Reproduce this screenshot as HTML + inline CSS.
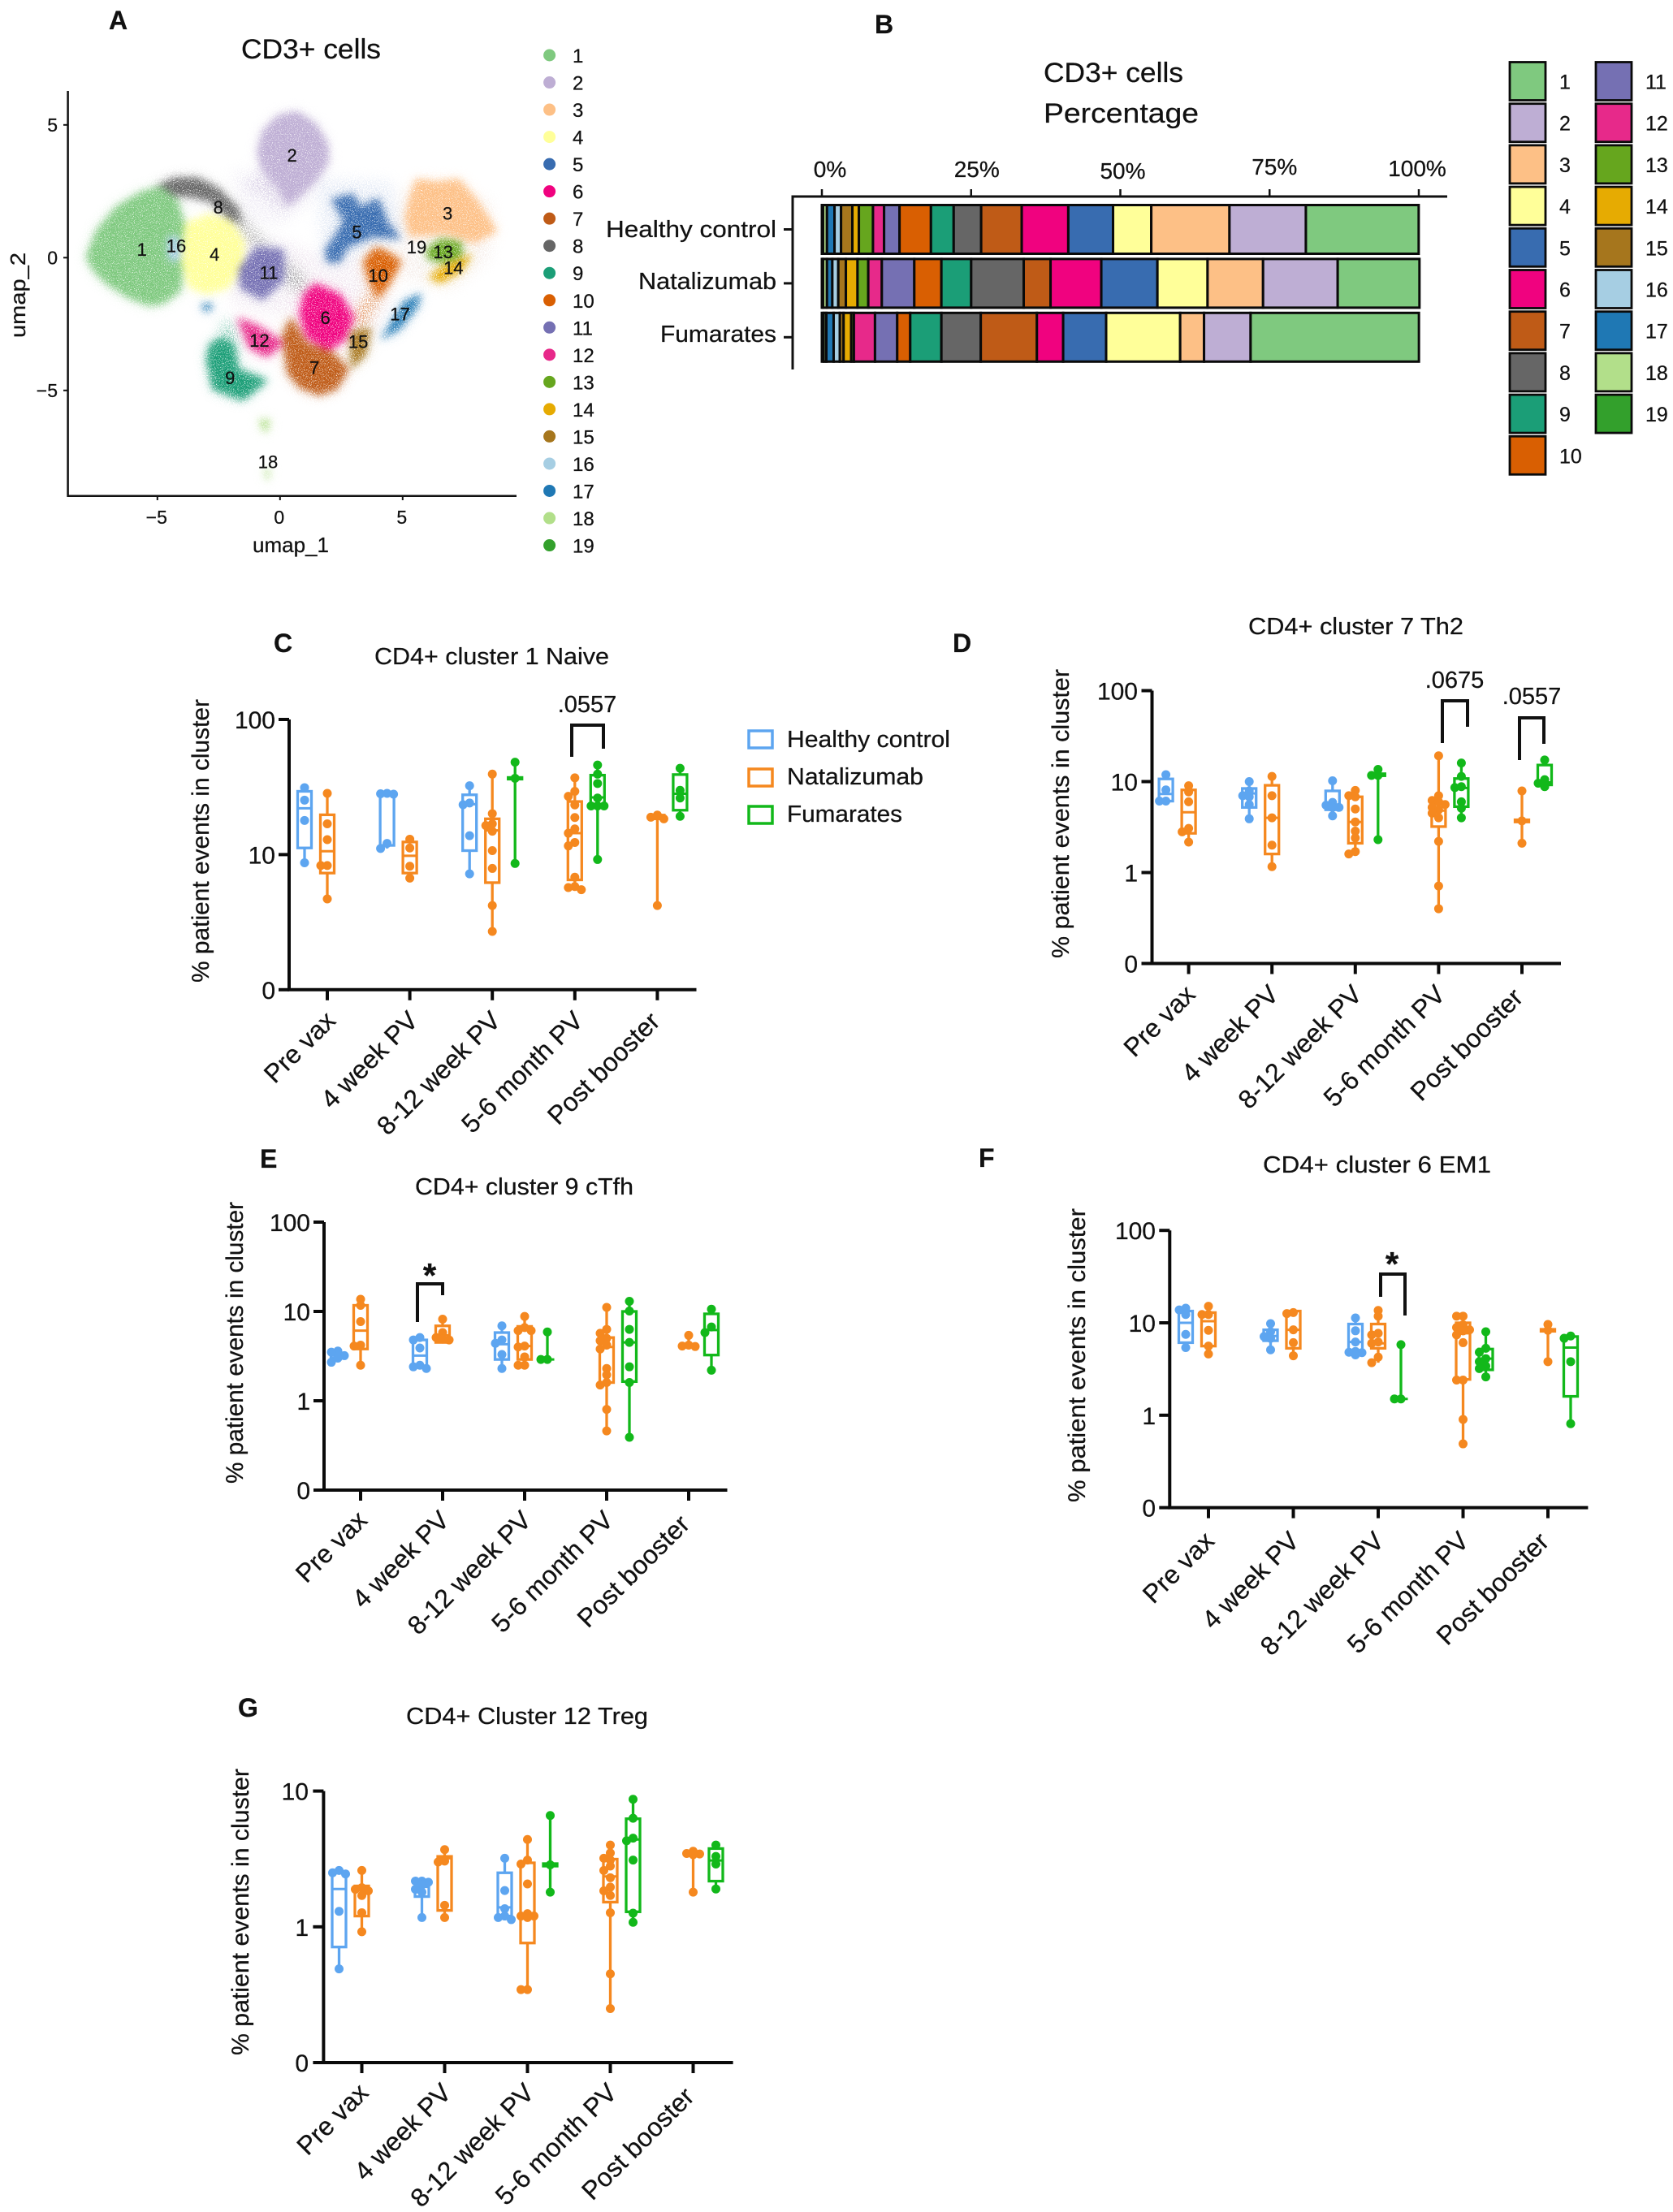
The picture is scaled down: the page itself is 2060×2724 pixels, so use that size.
<!DOCTYPE html>
<html lang="en">
<head>
<meta charset="utf-8">
<title>CD3+ cell clusters figure</title>
<style>
html,body{margin:0;padding:0;background:#fff;}
svg{display:block;}
text{font-family:"Liberation Sans",sans-serif;fill:#111;stroke:#111;stroke-width:.25px;}
</style>
</head>
<body>
<svg id="figure" xmlns="http://www.w3.org/2000/svg" width="2060" height="2724" viewBox="0 0 2060 2724">
  <defs>
    <filter id="grainHalo" filterUnits="userSpaceOnUse" x="60" y="100" width="600" height="520" color-interpolation-filters="sRGB">
      <feGaussianBlur in="SourceGraphic" stdDeviation="8" result="b"/>
      <feTurbulence type="fractalNoise" baseFrequency="0.8" numOctaves="2" seed="4" result="n"/>
      <feColorMatrix in="n" type="matrix" values="0 0 0 0 0 0 0 0 0 0 0 0 0 0 0 14 0 0 0 -6.6" result="m"/>
      <feComposite in="b" in2="m" operator="in"/>
    </filter>
    <filter id="grainCore" filterUnits="userSpaceOnUse" x="60" y="100" width="600" height="520" color-interpolation-filters="sRGB">
      <feGaussianBlur in="SourceGraphic" stdDeviation="4.5" result="b"/>
      <feTurbulence type="fractalNoise" baseFrequency="0.9" numOctaves="2" seed="9" result="n"/>
      <feColorMatrix in="n" type="matrix" values="0 0 0 0 0 0 0 0 0 0 0 0 0 0 0 9 0 0 0 -3" result="m"/>
      <feComposite in="b" in2="m" operator="in"/>
    </filter>
  </defs>

  <!-- Panel letters -->
  <g font-weight="700" font-size="32">
    <text x="134" y="36">A</text>
    <text x="1077" y="41">B</text>
    <text x="337" y="803">C</text>
    <text x="1173" y="803">D</text>
    <text x="320" y="1438">E</text>
    <text x="1205" y="1437">F</text>
    <text x="293" y="2114">G</text>
  </g>

  <!-- Panel A -->
  <g id="panel-a">
    <text x="297" y="72" font-size="34" textLength="172" lengthAdjust="spacingAndGlyphs">CD3+ cells</text>
    <g id="umap-marks"></g>
    <g id="umap-axes"></g>
    <text x="311" y="680" font-size="26" textLength="94" lengthAdjust="spacingAndGlyphs">umap_1</text>
    <text transform="translate(31,416) rotate(-90)" font-size="26" textLength="105" lengthAdjust="spacingAndGlyphs">umap_2</text>
    <g id="umap-legend"></g>
  </g>

  <!-- Panel B -->
  <g id="panel-b">
    <text x="1285" y="101" font-size="34" textLength="172" lengthAdjust="spacingAndGlyphs">CD3+ cells</text>
    <text x="1285" y="151" font-size="34" textLength="191" lengthAdjust="spacingAndGlyphs">Percentage</text>
    <g id="bar-marks"></g>
    <g id="bar-axes"></g>
    <g id="bar-legend"></g>
  </g>

  <!-- Panel titles and y titles -->
  <g font-size="29">
    <text x="461" y="818" textLength="289" lengthAdjust="spacingAndGlyphs">CD4+ cluster 1 Naive</text>
    <text x="1537" y="781" textLength="265" lengthAdjust="spacingAndGlyphs">CD4+ cluster 7 Th2</text>
    <text x="511" y="1471" textLength="269" lengthAdjust="spacingAndGlyphs">CD4+ cluster 9 cTfh</text>
    <text x="1555" y="1444" textLength="281" lengthAdjust="spacingAndGlyphs">CD4+ cluster 6 EM1</text>
    <text x="500" y="2123" textLength="298" lengthAdjust="spacingAndGlyphs">CD4+ Cluster 12 Treg</text>
  </g>
  <g font-size="30">
    <text transform="translate(257,1210) rotate(-90)" textLength="349" lengthAdjust="spacingAndGlyphs">% patient events in cluster</text>
    <text transform="translate(1316,1180) rotate(-90)" textLength="356" lengthAdjust="spacingAndGlyphs">% patient events in cluster</text>
    <text transform="translate(299,1827) rotate(-90)" textLength="347" lengthAdjust="spacingAndGlyphs">% patient events in cluster</text>
    <text transform="translate(1336,1850) rotate(-90)" textLength="362" lengthAdjust="spacingAndGlyphs">% patient events in cluster</text>
    <text transform="translate(306,2531) rotate(-90)" textLength="353" lengthAdjust="spacingAndGlyphs">% patient events in cluster</text>
  </g>

  <!-- Box plot marks -->
  <g id="panel-c"></g>
  <g id="panel-d"></g>
  <g id="panel-e"></g>
  <g id="panel-f"></g>
  <g id="panel-g"></g>

  <!-- Significance brackets -->
  <g fill="none" stroke="#111" stroke-width="4">
    <path d="M704 932V893H743V922"/>
    <path d="M1776 915V863H1807V895"/>
    <path d="M1871 936V884H1901V916"/>
    <path d="M514 1628V1581H545V1595"/>
    <path d="M1700 1597V1569H1730V1620"/>
  </g>
  <g font-size="29" text-anchor="middle">
    <text x="723" y="877">.0557</text>
    <text x="1791" y="847">.0675</text>
    <text x="1886" y="867">.0557</text>
  </g>
  <g font-size="42" font-weight="700" text-anchor="middle">
    <text x="529" y="1585">*</text>
    <text x="1714" y="1571">*</text>
  </g>

  <!-- Box plot legend -->
  <g font-size="29" fill="none" stroke-width="3.5">
    <rect x="922" y="900" width="29" height="21" stroke="#5da5f0"/>
    <rect x="922" y="947" width="29" height="21" stroke="#f5881f"/>
    <rect x="922" y="993" width="29" height="21" stroke="#12b81a"/>
    <text x="969" y="920" textLength="201" lengthAdjust="spacingAndGlyphs">Healthy control</text>
    <text x="969" y="966" textLength="168" lengthAdjust="spacingAndGlyphs">Natalizumab</text>
    <text x="969" y="1012" textLength="142" lengthAdjust="spacingAndGlyphs">Fumarates</text>
  </g>
</svg>

<script>
// ---------- shared categories ----------
const clusterColors = ['#7fc97f','#beaed4','#fdc086','#ffff99','#386cb0','#f0027f','#bf5b17','#666666','#1b9e77','#d95f02','#7570b3','#e7298a','#66a61e','#e6ab02','#a6761d','#a6cee3','#1f78b4','#b2df8a','#33a02c'];
const clusterIds = [1,2,3,4,5,6,7,8,9,10,11,12,13,14,15,16,17,18,19];
const timepoints = ['Pre vax','4 week PV','8-12 week PV','5-6 month PV','Post booster'];
const groupColors = ['#5da5f0','#f5881f','#12b81a'];
const groupNames = ['healthy-control','natalizumab','fumarates'];

// ---------- panel A: cluster outlines and labels in umap units ----------
const umapTicksX = [-5,0,5];
const umapTicksY = [5,0,-5];
const umapLabelIds = [1,16,4,8,2,11,5,3,19,13,14,10,6,17,15,12,7,9,18];
const umapLabelU = [-5.63,-4.23,-2.67,-2.52,0.49,-0.46,3.13,6.83,5.57,6.65,7.07,4.0,1.85,4.89,3.19,-0.84,1.40,-2.04,-0.49];
const umapLabelV = [0.32,0.46,0.13,1.90,3.86,-0.55,0.97,1.67,0.41,0.22,-0.37,-0.66,-2.26,-2.12,-3.16,-3.11,-4.13,-4.51,-7.68];
const umapSparseColors = ['#b7c6e6','#dcc6dc','#e6d2c8','#d8d2e8'];
const umapSparseRegions = [
  [[1.5,3],[4.5,2.9],[5.2,1],[4,0.3],[2,-0.3],[1.6,1]],
  [[-2,0.6],[0,0.7],[2,0],[4.5,-0.2],[4.5,-1.5],[3.5,-3.6],[2.5,-2],[0,-2.2],[-2,-1.8]],
  [[5,2.6],[8.6,2.2],[8.6,0],[7,-1.2],[5,-0.8],[4.8,1]],
  [[-2,3.3],[1.8,3.2],[1.2,2],[0,1.2],[-1.4,1.4]]
];
const umapTailIds = [8,2,10,9];
const umapTailOutlines = [
  [[-1.9,1.9],[-1.04,1.0],[-0.21,0.29],[0.77,-0.55],[1.27,-1.25],[0.61,-1.25],[-0.38,-0.13],[-1.37,0.72],[-2.03,1.42]],
  [[-0.5,3.3],[0.6,2.7],[0.12,1.70],[-0.54,2.26],[-1.53,2.68]],
  [[3.9,-1],[4.2,-1.3],[3.3,-2.8],[3.0,-2.2]],
  [[-2.3,-2.4],[-2,-2.4],[-1.7,-3.6],[-2.5,-3.4]]
];
const umapOutlineIds = [8,1,4,16,2,5,3,13,14,10,11,7,6,15,12,9,17,18,18,17];
const umapOutlines = [
  [[-5.07,2.68],[-4.33,3.0],[-3.34,3.0],[-2.52,2.61],[-1.70,1.84],[-1.55,1.3],[-2.03,1.42],[-2.85,2.12],[-3.67,2.30],[-4.5,2.35]],
  [[-7.9,0.01],[-7.5,1.0],[-6.7,1.9],[-5.65,2.48],[-4.83,2.68],[-4.2,2.2],[-3.9,1.28],[-3.95,-0.13],[-4.05,-1.25],[-4.75,-1.72],[-5.32,-1.82],[-6.15,-1.52],[-7.05,-1.0],[-7.62,-0.48]],
  [[-3.9,1.28],[-2.85,1.63],[-2.03,1.42],[-1.45,0.58],[-1.55,-0.41],[-2.15,-1.15],[-3.01,-1.36],[-3.7,-1.11],[-4.05,-0.13]],
  [[-4.6,0.8],[-4.1,0.8],[-4.0,0],[-4.3,-0.2],[-4.6,0]],
  [[0.69,5.5],[1.45,5.05],[1.95,4.3],[1.98,3.6],[1.55,3.0],[0.95,2.4],[0.3,1.9],[-0.1,2.6],[-0.75,3.3],[-0.92,4.0],[-0.72,4.75],[-0.1,5.35]],
  [[2.1,2.2],[2.95,2.4],[3.3,1.9],[4.0,2.25],[4.4,1.3],[4.95,0.7],[3.8,0.8],[2.75,0.4],[2.4,-0.2],[1.9,-0.15],[1.85,0.3],[2.3,0.9],[2.6,1.4]],
  [[5.55,2.95],[6.4,2.85],[7.3,2.95],[8.0,2.2],[8.85,1.0],[7.9,0.55],[6.7,0.9],[5.3,0.8],[5.1,1.5],[5.3,2.3]],
  [[5.96,0.29],[6.54,0.7],[7.4,0.6],[7.4,0.01],[6.71,-0.2],[6.05,-0.06]],
  [[6.05,-0.75],[6.71,-0.27],[7.85,0.15],[7.4,-0.5],[6.54,-0.95]],
  [[3.9,0.4],[4.4,0.2],[4.95,-0.13],[4.45,-1.0],[3.99,-1.55],[3.6,-0.85],[3.4,-0.13]],
  [[-0.95,0.4],[0.15,0.3],[0.15,-0.85],[-0.71,-1.6],[-1.6,-1.15],[-1.7,-0.41]],
  [[0.44,-2.23],[1.1,-3.22],[2.09,-3.5],[2.8,-4.2],[2.3,-4.95],[1.6,-5.18],[0.8,-4.9],[0.3,-4.34],[0.1,-2.94]],
  [[1.43,-0.97],[2.45,-1.39],[3,-2.23],[2.65,-3.1],[1.93,-3.5],[1.05,-2.98],[0.8,-2.09],[0.98,-1.39]],
  [[2.85,-2.79],[3.7,-2.65],[3.5,-3.64],[2.9,-4.2]],
  [[-1.75,-2.25],[-0.87,-2.58],[0.18,-3.22],[-0.54,-3.75],[-1.25,-3.4]],
  [[-2.3,-3],[-1.86,-3.3],[-1.7,-4.2],[-0.5,-4.62],[-1.53,-5.38],[-2.75,-4.95],[-3,-3.8],[-2.85,-3.22]],
  [[5.75,-1.35],[5.06,-1.67],[4.4,-2.65],[4.1,-3.1],[4.85,-2.7],[5.6,-1.85]],
  [[-0.85,-6.1],[-0.4,-6.1],[-0.55,-6.6],[-0.7,-6.5]],
  [[-0.65,-8.0],[-0.4,-8.0],[-0.5,-8.45]],
  [[-3.2,-1.75],[-2.75,-1.75],[-2.85,-2.0],[-3.1,-2.0]]
];

// ---------- panel B: stacked percentages, left to right = cluster 19 .. 1 ----------
const barCategories = ['Healthy control','Natalizumab','Fumarates'];
const barTicks = [0,25,50,75,100];
const barStackOrder = [19,18,17,16,15,14,13,12,11,10,9,8,7,6,5,4,3,2,1];
const barHealthy = [0.2,0.65,1.27,1.09,1.9,1.09,2.36,1.86,2.59,5.26,3.81,4.6,6.8,7.8,7.5,6.4,13.1,12.8,18.9];
const barNatalizumab = [0.2,0.65,0.9,1.0,1.27,1.95,1.8,2.27,5.44,4.54,4.99,8.8,4.5,8.5,9.4,8.4,9.3,12.5,13.7];
const barFumarates = [0.3,0.45,1.22,1.04,0.63,1.27,0.45,3.54,3.72,2.18,5.22,6.6,9.4,4.4,7.2,12.4,4.0,7.8,28.2];

// ---------- panel C ----------
const cTicks = [['0',1],['10',10],['100',100]];
const cHealthy = [[31.3,25.3,17.9,8.7],[28.4,28.2,28.0,12.1,11.1],[32.3,24.1,23.4,13.8,7.2],[],[]];
const cHealthyBox = [[11.2,22,29.4],[11.7,27.8,27.4],[10.7,23.6,27.7],null,null];
const cNatalizumab = [[28.4,16.9,12.9,8.3,8.3,4.7],[13,11.2,8.2,6.7],[39.4,20.1,16.9,16.4,14.9,10.7,7.9,4.2,2.7],[37,29.4,27,23.3,18.8,15.5,14.4,12.3,11.6,6.8,5.8,5.7,5.5],[19.6,18.9,18.4,4.2]];
const cNatalizumabBox = [[7.3,10.6,19.7],[7.3,9.8,12.4],[6.2,15.1,18.4],[6.5,14.4,24.7],[18.4,18.9,19.6]];
const cFumarates = [[],[],[48.3,36.7,8.6],[46,39.4,33.6,26.2,22.9,22.9,22.9,9.2],[43.5,29.9,26.2,19.2]];
const cFumaratesBox = [null,null,[36.2,36.7,37.2],[22.9,26.5,38.7],[21.3,28.2,39.1]];

// ---------- panel D ----------
const dTicks = [['0',0.1],['1',1],['10',10],['100',100]];
const dHealthy = [[11.9,8.1,6.1,6.1],[10,7.9,7,6.8,5.6,3.9],[10.2,5.9,5.5,5.2,5.2,4.2],[],[]];
const dHealthyBox = [[6.1,7.3,10.7],[5.2,7.4,8.4],[4.9,5.4,7.9],null,null];
const dNatalizumab = [[9,7.7,6,3.06,2.8,2.16],[11.4,7,4,2,1.16],[8,7,6.8,5,3.6,2.85,2.4,1.7,1.6],[19.2,7,6.2,6,5.6,5.2,4.9,4.5,4,2.2,0.71,0.4],[7.9,3.7,2.1]];
const dNatalizumabBox = [[2.7,4.6,8.1],[1.6,4,9.1],[2.1,3.6,6.8],[3.2,4.8,6],[3.6,3.7,3.8]];
const dFumarates = [[],[],[13.6,11.7,11.7,2.3],[16,11.4,8.8,8.6,6,5.1,4],[17.3,10.5,9.6,8.8]];
const dFumaratesBox = [null,null,[11.6,11.8,12.2],[5.3,8.5,10.8],[9.2,9.8,15.2]];

// ---------- panel E ----------
const eTicks = [['0',0.1],['1',1],['10',10],['100',100]];
const eHealthy = [[3.6,3.5,3.2,3,2.7],[5.1,4.8,3.9,2.5,2.4,2.3],[6.9,4.8,4.4,3.3,2.3],[],[]];
const eHealthyBox = [[3.0,3.2,3.4],[2.4,3.2,4.8],[2.9,4.3,5.8],null,null];
const eNatalizumab = [[13.7,11.7,7.7,4.2,4.1,2.5],[8.2,5.8,5.1,4.9,4.8],[8.8,6.6,6.1,6.1,4.1,4,3.1,2.5,2.5],[11.1,6.3,5.7,5,4.7,4.2,3.8,2.3,1.95,1.6,1.5,0.8,0.46],[5.4,4.2,4.1,4.05]];
const eNatalizumabBox = [[3.8,6.1,11.7],[4.5,5.4,6.9],[2.9,4.1,6.8],[1.6,4,5.1],[4.05,4.15,4.25]];
const eFumarates = [[],[],[5.9,2.9,2.9],[13,10.1,6.3,4.5,2.4,1.6,0.39],[10.6,6.7,5.8,2.2]];
const eFumaratesBox = [null,null,[2.9,2.9,2.9],[1.64,4.5,10],[3.25,6.2,9.4]];

// ---------- panel F ----------
const fTicks = [['0',0.1],['1',1],['10',10],['100',100]];
const fHealthy = [[14.4,13.8,12.3,7.5,5.4],[9.8,8,7.1,6.8,5.1],[11.3,8.2,6.2,4.9,4.8,4.75,4.5],[],[]];
const fHealthyBox = [[6.1,10,13.4],[6.4,7.2,8.4],[4.6,6.2,9.7],null,null];
const fNatalizumab = [[15.1,12.3,12.3,8.3,5.6,4.6],[12.9,12.6,8.4,6.1,4.4],[13.6,11.8,7.7,7.4,6.2,6,4.25,3.7],[11.8,11.8,9.5,8.9,8.4,8.2,8.2,7.4,6.1,2.4,2.4,0.9,0.49],[9.6,8.3,3.8]];
const fNatalizumabBox = [[5.6,10.4,12.9],[5.3,8.4,13.4],[5.3,6,9.7],[2.44,7.7,10],[8.1,8.3,8.5]];
const fFumarates = [[],[],[5.8,1.5,1.5],[8,5.3,4.8,4.1,3.8,3.4,3.2,2.6],[7.2,6.8,3.8,0.81]];
const fFumaratesBox = [null,null,[1.5,1.5,1.5],[3.1,4.1,5.2],[1.6,5.4,7.1]];

// ---------- panel G ----------
const gTicks = [['0',0.1],['1',1],['10',10]];
const gHealthy = [[2.6,2.5,2.45,1.3,0.49],[2.17,2.17,2.13,2.03,1.89,1.8,1.17],[3.2,1.85,1.36,1.2,1.17,1.13],[],[]];
const gHealthyBox = [[0.71,1.9,2.5],[1.67,1.97,2.1],[1.2,1.39,2.5],null,null];
const gNatalizumab = [[2.6,1.94,1.89,1.84,1.7,1.27,0.92],[3.7,3.05,3,1.44,1.17],[4.4,3.1,2.9,2.07,1.25,1.2,1.2,1.17,0.345,0.345],[4,3.5,3.2,3.1,2.8,2.6,2.3,1.96,1.84,1.7,1.27,0.45,0.25],[3.6,3.47,3.44,3.4,1.8]];
const gNatalizumabBox = [[1.2,1.9,2],[1.32,3.2,3.3],[0.76,1.2,2.96],[1.52,2.35,3.15],[3.4,3.45,3.5]];
const gFumarates = [[],[],[6.6,2.86,1.8],[8.7,6.3,4.5,4.3,3.1,1.26,1.08],[4,3.3,2.9,1.9]];
const gFumaratesBox = [null,null,[2.8,2.86,2.92],[1.29,4.4,6.25],[2.17,3.08,3.77]];

// ---------- helpers ----------
const NS = 'http://www.w3.org/2000/svg';
function shape(parent, tag, geometry) {
  const el = document.createElementNS(NS, tag);
  Object.keys(geometry).forEach(function (k) { el.setAttribute(k, geometry[k]); });
  parent.appendChild(el);
  return el;
}
function label(parent, content, geometry) {
  const el = shape(parent, 'text', geometry);
  el.textContent = content;
  return el;
}
function colorOf(id) { return clusterColors[clusterIds.indexOf(id)]; }

// ---------- panel A drawing ----------
function umapX(u) { return 344.8 + 30.2 * u; }
function umapY(v) { return 317.3 - 32.7 * v; }
function umapPoints(outline) {
  return outline.map(function (p) { return umapX(p[0]).toFixed(1) + ',' + umapY(p[1]).toFixed(1); }).join(' ');
}
(function drawUmap() {
  const marks = document.getElementById('umap-marks');
  const halo = shape(marks, 'g', { filter: 'url(#grainHalo)', opacity: '0.7' });
  
  
  umapSparseRegions.forEach(function (region, i) {
    const sparse = shape(halo, 'polygon', { points: umapPoints(region), fill: umapSparseColors[i], opacity: '0.55' });
    
    
  });
  umapTailOutlines.forEach(function (outline, i) {
    const poly = shape(halo, 'polygon', { points: umapPoints(outline), fill: colorOf(umapTailIds[i]) });
    
    
  });
  umapOutlines.forEach(function (outline, i) {
    const poly = shape(halo, 'polygon', { points: umapPoints(outline), fill: colorOf(umapOutlineIds[i]) });
    
    
  });
  const core = shape(marks, 'g', { filter: 'url(#grainCore)' });
  
  
  umapOutlines.forEach(function (outline, i) {
    const poly = shape(core, 'polygon', { points: umapPoints(outline), fill: colorOf(umapOutlineIds[i]) });
    
    
  });
  umapLabelIds.forEach(function (id, i) {
    const t = label(marks, String(id), { x: umapX(umapLabelU[i]), y: umapY(umapLabelV[i]) + 8, 'text-anchor': 'middle', 'font-size': 22 });
    
    
  });

  const axes = document.getElementById('umap-axes');
  const axisLines = shape(axes, 'path', { d: 'M83.6 112V610.7H636', fill: 'none', stroke: '#111', 'stroke-width': 2.5 });
  
  
  umapTicksX.forEach(function (tick) {
    const m = shape(axes, 'line', { x1: umapX(tick), x2: umapX(tick), y1: 610.7, y2: 616, stroke: '#111', 'stroke-width': 2 });
    
    
    const t = label(axes, String(tick).replace('-', '\u2212'), { x: umapX(tick) - 1, y: 645, 'text-anchor': 'middle', 'font-size': 23 });
    
    
  });
  umapTicksY.forEach(function (tick) {
    const m = shape(axes, 'line', { x1: 78, x2: 83.6, y1: umapY(tick), y2: umapY(tick), stroke: '#111', 'stroke-width': 2 });
    
    
    const t = label(axes, String(tick).replace('-', '\u2212'), { x: 71, y: umapY(tick) + 8, 'text-anchor': 'end', 'font-size': 23 });
    
    
  });

  const legend = document.getElementById('umap-legend');
  clusterIds.forEach(function (id, i) {
    const cy = 68 + i * 33.53;
    const dot = shape(legend, 'circle', { cx: 676.6, cy: cy, r: 7.5, fill: clusterColors[i] });
    
    
    const t = label(legend, String(id), { x: 705, y: cy + 9, 'font-size': 24 });
    
    
  });
})();

// ---------- panel B drawing ----------
function barX(p) { return 1012 + 7.35 * p; }
function barRowTop(i) { return 252.5 + i * 66.4; }
(function drawBars() {
  const marks = document.getElementById('bar-marks');
  [barHealthy, barNatalizumab, barFumarates].forEach(function (row, r) {
    let cum = 0;
    row.forEach(function (value, i) {
      const id = barStackOrder[i];
      const seg = shape(marks, 'rect', { x: barX(cum), y: barRowTop(r), width: Math.max(value * 7.35, 0.5), height: 60, fill: colorOf(id), stroke: '#0a0a0a', 'stroke-width': 3 });
      
      
      cum += value;
    });
  });

  const axes = document.getElementById('bar-axes');
  const lines = shape(axes, 'path', { d: 'M976 455V242H1782', fill: 'none', stroke: '#111', 'stroke-width': 3 });
  
  
  const labelNudge = [10, 7, 3, 6, -2];
  const labelBase = [218, 218, 220, 215, 217];
  barTicks.forEach(function (tick, i) {
    const m = shape(axes, 'line', { x1: barX(tick), x2: barX(tick), y1: 233, y2: 242, stroke: '#111', 'stroke-width': 2.5 });
    
    
    const t = label(axes, tick + '%', { x: barX(tick) + labelNudge[i], y: labelBase[i], 'text-anchor': 'middle', 'font-size': 28 });
    
    
  });
  const catWidths = [210, 170, 143];
  const catBaselines = [292, 356, 421];
  barCategories.forEach(function (cat, i) {
    const cy = barRowTop(i) + 30;
    const m = shape(axes, 'line', { x1: 965, x2: 975, y1: cy, y2: cy, stroke: '#111', 'stroke-width': 3 });
    
    
    const t = label(axes, cat, { x: 956 - catWidths[i], y: catBaselines[i], 'font-size': 29, textLength: catWidths[i], lengthAdjust: 'spacingAndGlyphs' });
    
    
  });

  const legend = document.getElementById('bar-legend');
  clusterIds.forEach(function (id, i) {
    const col = i < 10 ? 0 : 1;
    const row = i < 10 ? i : i - 10;
    const x = col === 0 ? 1859 : 1965;
    const y = 76.5 + row * 51.2;
    const s = shape(legend, 'rect', { x: x, y: y, width: 44, height: 47, fill: clusterColors[i], stroke: '#0a0a0a', 'stroke-width': 2.8 });
    
    
    const t = label(legend, String(id), { x: col === 0 ? 1920 : 2026, y: y + 33, 'font-size': 25 });
    
    
  });
})();

// ---------- box plot panels ----------
function boxPanel(cfg, ticks, series, boxes) {
  const root = document.getElementById(cfg.id);
  const xTick = function (i) { return cfg.x0 + i * cfg.step; };
  const yVal = function (v) { return cfg.yBottom - cfg.decade * Math.log10(v / cfg.base); };

  // marks
  series.forEach(function (groupData, g) {
    groupData.forEach(function (points, t) {
      if (!points.length) return;
      const color = groupColors[g];
      const cx = xTick(t) + (g - 1) * 28;
      const box = boxes[g][t];
      const hi = Math.max.apply(null, points);
      const lo = Math.min.apply(null, points);
      const wh = shape(root, 'line', { x1: cx, x2: cx, y1: yVal(hi), y2: yVal(lo), stroke: color, 'stroke-width': 3.3 });
      
      
      if (box) {
        const top = yVal(box[2]);
        const bottom = yVal(box[0]);
        const b = shape(root, 'rect', { x: cx - 8.5, y: top, width: 17, height: Math.abs(bottom - top), fill: '#fff', stroke: color, 'stroke-width': 3.3 });
        
        
        const med = shape(root, 'line', { x1: cx - 8.5, x2: cx + 8.5, y1: yVal(box[1]), y2: yVal(box[1]), stroke: color, 'stroke-width': 3 });
        
        
      }
      // swarm placement keeps overlapping values side by side
      const placed = [];
      points.slice().sort(function (a, b) { return b - a; }).forEach(function (v) {
        const py = yVal(v);
        const candidates = [0, -8, 8, -15, 15];
        let dx = 0;
        for (let c = 0; c < candidates.length; c++) {
          const clash = placed.some(function (p) { return Math.abs(p[1] - py) < 7 && Math.abs(p[0] - candidates[c]) < 7.5; });
          if (!clash) { dx = candidates[c]; break; }
        }
        placed.push([dx, py]);
        const dot = shape(root, 'circle', { cx: cx + dx, cy: py, r: 5.5, fill: color });
        
        
      });
    });
  });

  // axes
  const yTop = yVal(ticks[ticks.length - 1][1]);
  const axis = shape(root, 'path', { d: 'M' + cfg.xAxis + ' ' + yTop + 'V' + cfg.yBottom + 'H' + cfg.xEnd, fill: 'none', stroke: '#0a0a0a', 'stroke-width': 4 });
  
  
  ticks.forEach(function (tick) {
    const y = yVal(tick[1]);
    const m = shape(root, 'line', { x1: cfg.xAxis - 13, x2: cfg.xAxis, y1: y, y2: y, stroke: '#0a0a0a', 'stroke-width': 4 });
    
    
    const t = label(root, tick[0], { x: cfg.labelRight, y: y + 11, 'text-anchor': 'end', 'font-size': 30 });
    
    
  });
  timepoints.forEach(function (name, i) {
    const x = xTick(i);
    const m = shape(root, 'line', { x1: x, x2: x, y1: cfg.yBottom, y2: cfg.yBottom + 13, stroke: '#0a0a0a', 'stroke-width': 4 });
    
    
    const isLast = i === timepoints.length - 1;
    const lx = x + (isLast ? cfg.postDx : cfg.labelDx);
    const ly = cfg.yBottom + (isLast ? cfg.postDy : cfg.labelDy);
    const t = label(root, name, { transform: 'translate(' + lx + ',' + ly + ') rotate(-45)', 'text-anchor': 'end', 'font-size': 32 });
    
    
  });
}

boxPanel({ id: 'panel-c', x0: 403, step: 101.6, yBottom: 1218.8, decade: 166.4, base: 1, xAxis: 356, xEnd: 857.5, labelRight: 339, labelDx: 12, labelDy: 40, postDx: 5, postDy: 41 }, cTicks,
  [cHealthy, cNatalizumab, cFumarates], [cHealthyBox, cNatalizumabBox, cFumaratesBox]);
boxPanel({ id: 'panel-d', x0: 1463.6, step: 102.6, yBottom: 1186.5, decade: 112, base: 0.1, xAxis: 1418.5, xEnd: 1922, labelRight: 1401, labelDx: 10, labelDy: 40, postDx: 3, postDy: 44 }, dTicks,
  [dHealthy, dNatalizumab, dFumarates], [dHealthyBox, dNatalizumabBox, dFumaratesBox]);
boxPanel({ id: 'panel-e', x0: 444, step: 101, yBottom: 1835, decade: 110, base: 0.1, xAxis: 399, xEnd: 895.5, labelRight: 382, labelDx: 10, labelDy: 39, postDx: 3, postDy: 44 }, eTicks,
  [eHealthy, eNatalizumab, eFumarates], [eHealthyBox, eNatalizumabBox, eFumaratesBox]);
boxPanel({ id: 'panel-f', x0: 1488, step: 104.5, yBottom: 1856.6, decade: 113.8, base: 0.1, xAxis: 1440.3, xEnd: 1955.4, labelRight: 1423, labelDx: 9, labelDy: 43, postDx: 3, postDy: 44 }, fTicks,
  [fHealthy, fNatalizumab, fFumarates], [fHealthyBox, fNatalizumabBox, fFumaratesBox]);
boxPanel({ id: 'panel-g', x0: 445.5, step: 102, yBottom: 2540, decade: 167.2, base: 0.1, xAxis: 398.4, xEnd: 902.6, labelRight: 380, labelDx: 10, labelDy: 39, postDx: 3, postDy: 44 }, gTicks,
  [gHealthy, gNatalizumab, gFumarates], [gHealthyBox, gNatalizumabBox, gFumaratesBox]);
</script>
</body>
</html>
